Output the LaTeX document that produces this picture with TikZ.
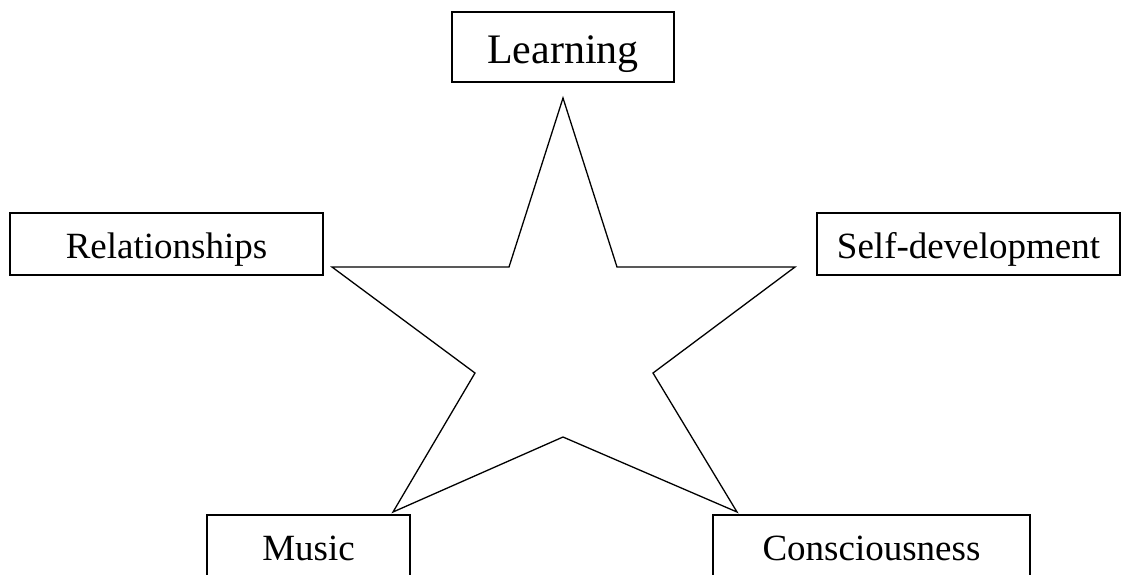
\documentclass[tikz,border=0pt]{standalone}
\usepackage{fontspec}
\setmainfont{Liberation Serif}
\begin{document}
\begin{tikzpicture}[x=1pt,y=-1pt,
  box/.style={draw, line width=1.3pt, rectangle, inner sep=0pt, text height=29pt, text depth=0pt, font=\fontsize{37}{40}\selectfont},
  starline/.style={draw, line width=1.3pt, line join=miter}]
\clip (0,0) rectangle (1122,574);
\fill[white] (0,0) rectangle (1122,574);
\node[box, minimum width=222pt, minimum height=70pt, text height=32pt, font=\fontsize{42}{44}\selectfont] (learning) at (563,47) {Learning};
\node[box, minimum width=313pt, minimum height=62pt] (rel) at (166.5,244) {Relationships};
\node[box, minimum width=303pt, minimum height=62pt] (self) at (968.5,244) {Self-development};
\node[box, minimum width=203pt, minimum height=62pt] (music) at (308.5,546) {Music};
\node[box, minimum width=317pt, minimum height=62pt] (cons) at (871.5,546) {Consciousness};
\draw[starline] (563,98) -- (617,267) -- (795,267) -- (653,373) -- (737,512) -- (563,437) -- (393,512) -- (475,373) -- (332,267) -- (509,267) -- cycle;
\end{tikzpicture}
\end{document}
